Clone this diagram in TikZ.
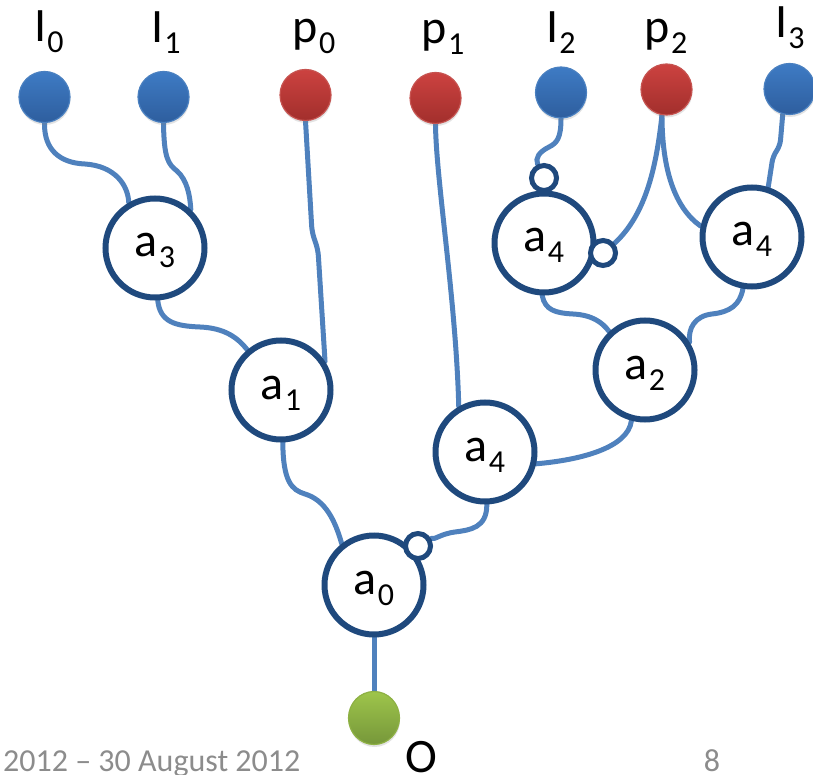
\documentclass[tikz,border=0pt]{standalone}
\usepackage{fontspec}
\setmainfont{Carlito}
\usetikzlibrary{shadows,backgrounds,shapes.geometric}

\definecolor{ringblue}{HTML}{1F497D}
\definecolor{wireblue}{HTML}{4F81BD}
\definecolor{inTop}{HTML}{3E7BC4}
\definecolor{inBot}{HTML}{2E5E9E}
\definecolor{inRim}{HTML}{4A80C0}
\definecolor{ctlTop}{HTML}{CC4240}
\definecolor{ctlBot}{HTML}{A22F2C}
\definecolor{ctlRim}{HTML}{C65350}
\definecolor{outTop}{HTML}{9EC54B}
\definecolor{outBot}{HTML}{76973A}
\definecolor{footgray}{HTML}{8C8C8C}

% lowered subscript digit
\newcommand\subd[1]{\kern1pt\raisebox{-11pt}{\fontsize{32}{32}\selectfont #1}}

\tikzset{
  gate/.style={circle, draw=ringblue, line width=6pt, fill=white,
    minimum size=99pt, inner sep=0pt, font=\fontsize{48}{58}\selectfont,
    text height=23pt, text depth=5pt,
    drop shadow={opacity=0.18, shadow xshift=1pt, shadow yshift=-2pt}},
  bubble/.style={circle, draw=ringblue, line width=5pt, fill=white,
    minimum size=25pt, inner sep=0pt},
  dotbase/.style={circle, minimum size=51pt, inner sep=0pt, line width=1.2pt,
    drop shadow={opacity=0.22, shadow xshift=0.5pt, shadow yshift=-2.5pt}},
  indot/.style={dotbase, top color=inTop, bottom color=inBot, draw=inRim},
  ctldot/.style={dotbase, top color=ctlTop, bottom color=ctlBot, draw=ctlRim},
  outdot/.style={dotbase, top color=outTop, bottom color=outBot, draw=outTop!90!black,
    minimum width=51pt, minimum height=53pt, ellipse},
  wire/.style={draw=wireblue, line width=5pt, line cap=round},
  lbl/.style={font=\fontsize{48}{58}\selectfont, anchor=base, inner sep=0pt},
  foot/.style={font=\fontsize{32}{36}\selectfont, text=footgray, anchor=base, inner sep=0pt}
}

\begin{document}
\begin{tikzpicture}[x=1pt,y=-1pt]
\useasboundingbox (0,0) rectangle (813,775);
\clip (0,0) rectangle (813,775);

% inputs and controls
\node[indot]  (I0) at (44.5,97) {};
\node[indot]  (I1) at (163.5,97) {};
\node[ctldot] (P0) at (305.5,95) {};
\node[ctldot] (P1) at (435.5,98) {};
\node[indot]  (I2) at (561,92.5) {};
\node[ctldot] (P2) at (666.5,89.5) {};
\node[indot]  (I3) at (789.5,89) {};

\node[lbl] (tI0) at (49,42)  {I\subd0};
\node[lbl] (tI1) at (166,43) {I\subd1};
\node[lbl] (tP0) at (314,43) {p\subd0};
\node[lbl] (tP1) at (443,44) {p\subd1};
\node[lbl] (tI2) at (561,43) {I\subd2};
\node[lbl] (tP2) at (666,43) {p\subd2};
\node[lbl] (tI3) at (790,38) {I\subd3};

% gates
\node[gate] (A3)  at (155,248) {a\subd3};
\node[gate] (A1)  at (281,390) {a\subd1};
\node[gate] (A4L) at (544,243) {a\subd4};
\node[gate] (A4R) at (752,237) {a\subd4};
\node[gate] (A2)  at (645,370) {a\subd2};
\node[gate] (A4M) at (485,452) {a\subd4};
\node[gate] (A0)  at (374,585) {a\subd0};

% negation bubbles
\node[bubble] (BT) at (544,178) {};
\node[bubble] (BR) at (603,253) {};
\node[bubble] (B0) at (418,546) {};

% output
\node[outdot] (O) at (374,718) {};
\node[lbl] (tO) at (421,772) {O};

% footer
\node[foot, anchor=base west] (date) at (3,771) {2012 – 30 August 2012};
\node[foot] (page) at (712,771) {8};

% wires
\begin{scope}[on background layer]
\path[wire] (I0.south) .. controls (44,150) and (60,163) .. (85,164)
  .. controls (115,166) and (128,185) .. (A3.120);
\path[wire] (I1.south) .. controls (164,158) and (168,164) .. (177,171)
  .. controls (187,180) and (190,195) .. (A3.47);
\path[wire, rounded corners=6pt] (P0.south) -- (312,232) -- (318,250) -- (A1.33);
\path[wire] (A3.-87) .. controls (160,322) and (175,326) .. (200,327)
  .. controls (225,328) and (238,338) .. (A1.130);
\path[wire] (A1.-88) .. controls (283,482) and (292,490) .. (305,494)
  .. controls (325,500) and (335,520) .. (A0.128);
\path[wire] (P1.south) .. controls (436,180) and (456,300) .. (A4M.120);
\path[wire] (A4M.-88) .. controls (487,528) and (470,530) .. (455,532)
  .. controls (440,534) and (435,540) .. (B0.30);
\path[wire] (A2.-105) .. controls (628,448) and (580,460) .. (A4M.-13);
\path[wire] (A4L.-92) .. controls (545,310) and (555,313) .. (573,314)
  .. controls (592,315) and (602,322) .. (A2.133);
\path[wire] (A4R.-100) .. controls (740,305) and (730,312) .. (712,314)
  .. controls (695,316) and (688,328) .. (A2.32);
\path[wire] (I2.south) .. controls (561,138) and (557,143) .. (549,147)
  .. controls (539,152) and (535,158) .. (BT.115);
\path[wire] (P2.-100) .. controls (656,170) and (645,215) .. (BR.40);
\path[wire] (P2.-100) .. controls (662,170) and (675,208) .. (A4R.168);
\path[wire, rounded corners=6pt] (I3.-105) -- (780,146) -- (773,156) -- (A4R.72);
\path[wire] (A0.south) -- (O.north);
\end{scope}
\end{tikzpicture}
\end{document}
